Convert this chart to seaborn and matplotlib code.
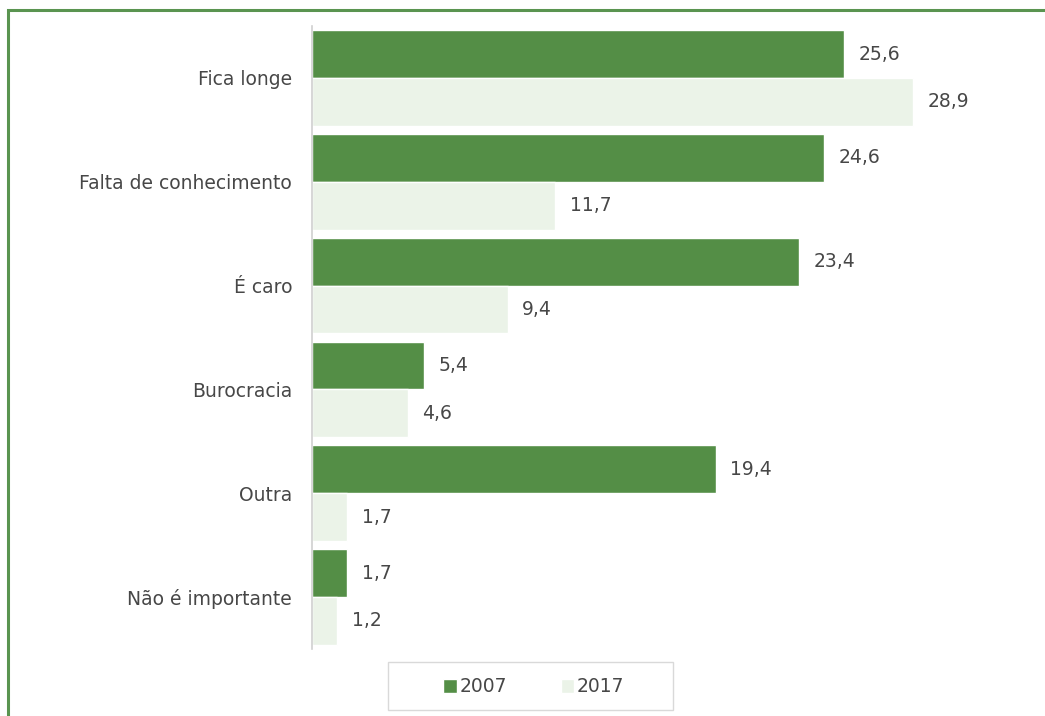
import matplotlib
matplotlib.use("Agg")
import matplotlib.pyplot as plt
import seaborn as sns
import pandas as pd
from matplotlib.patches import Rectangle

# Reasons given, share of respondents (%)
categories = ["Fica longe", "Falta de conhecimento", "É caro", "Burocracia", "Outra", "Não é importante"]
years = ["2007", "2017"]
values_2007 = [25.6, 24.6, 23.4, 5.4, 19.4, 1.7]
values_2017 = [28.9, 11.7, 9.4, 4.6, 1.7, 1.2]

colors = {"2007": "#548E46", "2017": "#EBF3E8"}
text_color = "#474747"
fs = 13.5

df = pd.DataFrame({
    "categoria": categories * 2,
    "ano": [years[0]] * len(categories) + [years[1]] * len(categories),
    "valor": values_2007 + values_2017,
})

sns.set_theme(style="white")
plt.rcParams["font.family"] = ["DejaVu Sans"]

W, H = 1045, 716
fig = plt.figure(figsize=(W / 100, H / 100), dpi=100)
ax = fig.add_axes([312 / W, (H - 649) / H, 718 / W, (649 - 26) / H])

sns.barplot(data=df, y="categoria", x="valor", hue="ano", order=categories,
            hue_order=years, palette=colors, orient="h", width=0.92,
            saturation=1, ax=ax, errorbar=None, legend=True)

ax.set_xlim(0, 718 / 20.8)
ax.set_ylim(len(categories) - 0.5, -0.5)
ax.set_xlabel("")
ax.set_ylabel("")
ax.set_xticks([])
ax.tick_params(axis="y", length=0, pad=14.4, labelsize=fs, labelcolor=text_color)

for side in ["top", "right", "bottom"]:
    ax.spines[side].set_visible(False)
ax.spines["left"].set_color("#D0D0D0")
ax.spines["left"].set_linewidth(1.2)

for container in ax.containers:
    labels = [f"{v:.1f}".replace(".", ",") for v in container.datavalues]
    ax.bar_label(container, labels=labels, padding=10.5, fontsize=fs, color=text_color)

handles, lbls = ax.get_legend_handles_labels()
ax.legend_.remove()
leg = fig.legend(handles, lbls, loc="center", bbox_to_anchor=(534 / W, (H - 687) / H),
                 ncol=2, frameon=False, fontsize=fs, handlelength=0.7,
                 handleheight=0.7, handletextpad=0.15, columnspacing=2.9,
                 labelcolor=text_color)

# Legend box
fig.add_artist(Rectangle((388 / W, (H - 710) / H), 285 / W, 48 / H, transform=fig.transFigure,
                         fill=False, edgecolor="#D9D9D9", linewidth=1.0))

# Green frame around the panel
fig.add_artist(Rectangle((8 / W, -0.1), 1.2, (H - 10) / H + 0.1, transform=fig.transFigure,
                         fill=False, edgecolor="#5A9450", linewidth=2.2, clip_on=False))

fig.savefig("out.png", dpi=100)
